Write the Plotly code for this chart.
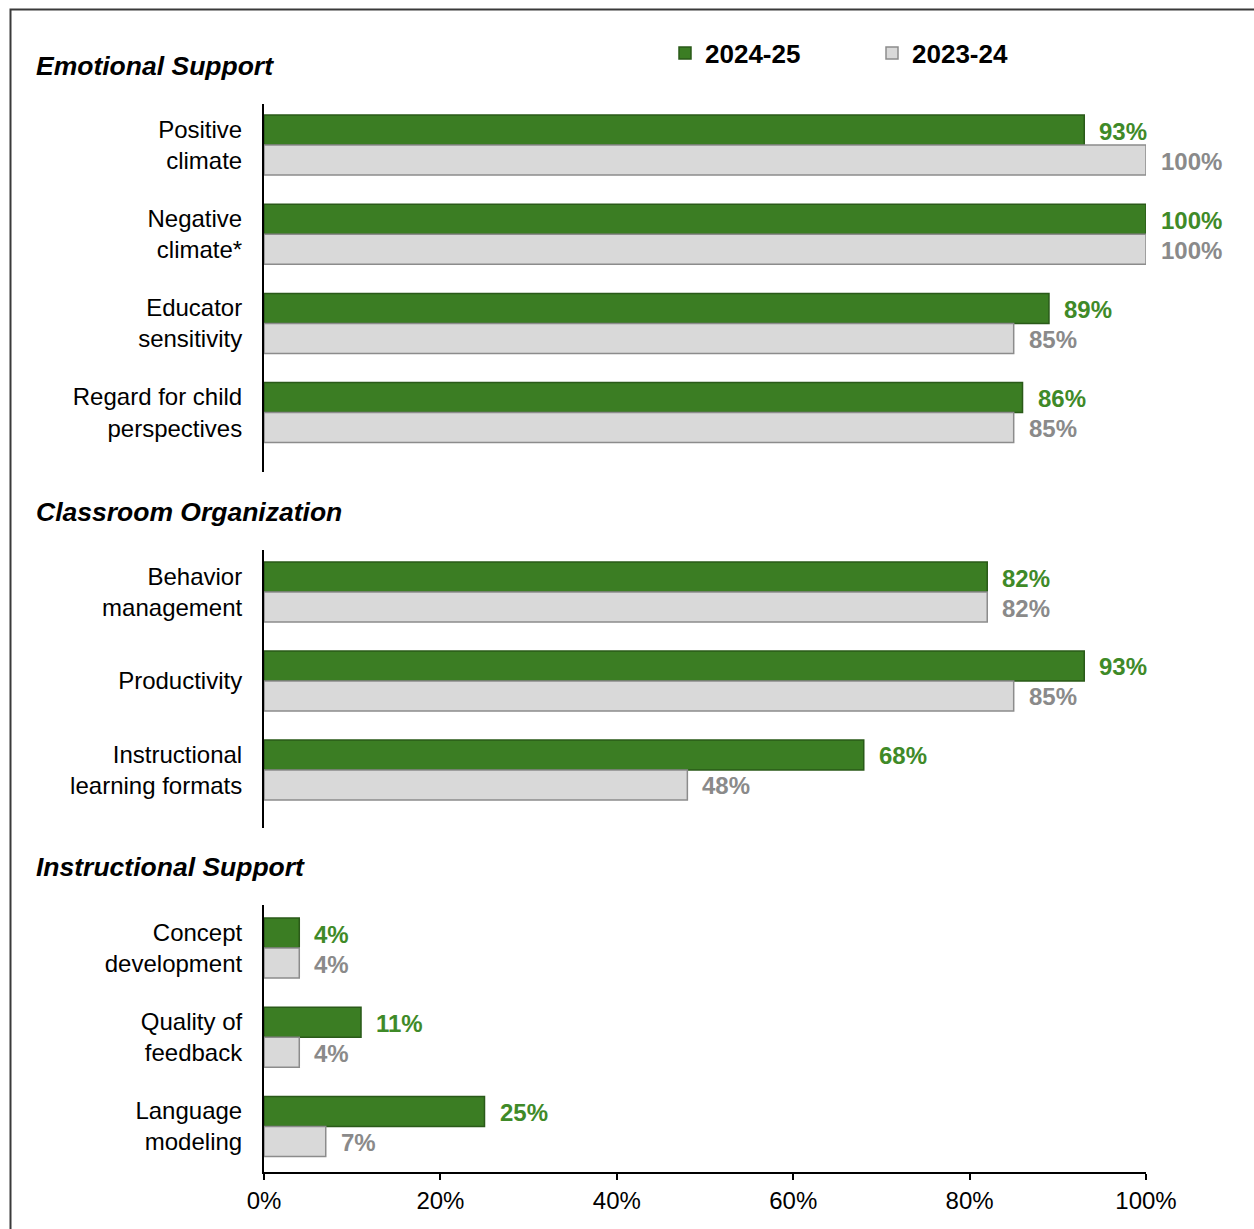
import plotly.graph_objects as go

# ---- data -------------------------------------------------------------
emotional_labels = ["Positive<br>climate", "Negative<br>climate*",
                    "Educator<br>sensitivity", "Regard for child<br>perspectives"]
emotional_2425 = [93, 100, 89, 86]
emotional_2324 = [100, 100, 85, 85]

organization_labels = ["Behavior<br>management", "Productivity",
                       "Instructional<br>learning formats"]
organization_2425 = [82, 93, 68]
organization_2324 = [82, 85, 48]

instructional_labels = ["Concept<br>development", "Quality of<br>feedback",
                        "Language<br>modeling"]
instructional_2425 = [4, 11, 25]
instructional_2324 = [4, 4, 7]

section_titles = ["Emotional Support", "Classroom Organization", "Instructional Support"]
series_names = ["2024-25", "2023-24"]
x_ticks = [0, 20, 40, 60, 80, 100]
x_tick_labels = ["0%", "20%", "40%", "60%", "80%", "100%"]

# ---- styling ----------------------------------------------------------
W, H = 1254, 1229
FONT = "Liberation Sans"
GREEN, GREEN_EDGE, GREEN_TEXT = "#3B7D23", "#2A5A19", "#3F8A28"
GRAY, GRAY_EDGE, GRAY_TEXT = "#D9D9D9", "#8C8C8C", "#8A8A8A"


def py(pixel):
    """Convert a pixel row (from the top) into paper coordinates."""
    return 1 - pixel / H


def px(pixel):
    return pixel / W


sections = [
    dict(labels=emotional_labels, new=emotional_2425, old=emotional_2324,
         yaxis="y", domain=[py(472), py(104)], rng=[3.666, -0.46], title_y=66),
    dict(labels=organization_labels, new=organization_2425, old=organization_2324,
         yaxis="y2", domain=[py(828), py(550)], rng=[2.652, -0.472], title_y=512),
    dict(labels=instructional_labels, new=instructional_2425, old=instructional_2324,
         yaxis="y3", domain=[py(1172), py(905)], rng=[2.51, -0.482], title_y=867),
]

fig = go.Figure()
annotations = []
layout_axes = {}

for i, sec in enumerate(sections):
    first = i == 0
    fig.add_trace(go.Bar(
        y=sec["labels"], x=sec["new"], orientation="h", name=series_names[0],
        xaxis="x", yaxis=sec["yaxis"], showlegend=first, legendgroup="new",
        marker=dict(color=GREEN, line=dict(color=GREEN_EDGE, width=1.5)),
        hoverinfo="skip",
    ))
    fig.add_trace(go.Bar(
        y=sec["labels"], x=sec["old"], orientation="h", name=series_names[1],
        xaxis="x", yaxis=sec["yaxis"], showlegend=first, legendgroup="old",
        marker=dict(color=GRAY, line=dict(color=GRAY_EDGE, width=1.5)),
        hoverinfo="skip",
    ))

    # value labels to the right of each bar
    for lab, v_new, v_old in zip(sec["labels"], sec["new"], sec["old"]):
        for val, shift, col in ((v_new, 14, GREEN_TEXT), (v_old, -16, GRAY_TEXT)):
            annotations.append(dict(
                x=val, y=lab, xref="x", yref=sec["yaxis"],
                text=f"{val}%", showarrow=False, xanchor="left", yanchor="middle",
                xshift=13, yshift=shift,
                font=dict(family=FONT, size=24, color=col, weight="bold"),
            ))

    # section heading
    annotations.append(dict(
        x=px(34), y=py(sec["title_y"]), xref="paper", yref="paper",
        text=section_titles[i], showarrow=False, xanchor="left", yanchor="middle",
        font=dict(family=FONT, size=26.5, color="black", weight="bold", style="italic"),
    ))

    key = "yaxis" if first else f"yaxis{i + 1}"
    layout_axes[key] = dict(
        domain=sec["domain"], range=sec["rng"], type="category", anchor="x",
        showline=True, linecolor="black", linewidth=2, ticks="",
        showgrid=False, zeroline=False, ticklabelstandoff=15,
        tickfont=dict(family=FONT, size=24, color="black"),
        fixedrange=True, automargin=False,
    )

fig.update_layout(
    width=W, height=H,
    margin=dict(l=0, r=0, t=0, b=0),
    paper_bgcolor="white", plot_bgcolor="white",
    barmode="group", bargap=0.327, bargroupgap=0,
    xaxis=dict(
        domain=[px(264), px(1146)], range=[0, 100], anchor="y3",
        tickmode="array", tickvals=x_ticks, ticktext=x_tick_labels,
        showline=True, linecolor="black", linewidth=2,
        ticks="outside", ticklen=6, tickwidth=2, tickcolor="black",
        showgrid=False, zeroline=False,
        tickfont=dict(family=FONT, size=24, color="black"),
        fixedrange=True, automargin=False,
    ),
    legend=dict(
        orientation="h", x=px(665), xanchor="left", y=py(53), yanchor="middle",
        font=dict(family=FONT, size=26, color="black", weight="bold"),
        entrywidth=162, entrywidthmode="pixels", traceorder="normal",
        bgcolor="rgba(0,0,0,0)",
    ),
    annotations=annotations,
    shapes=[dict(
        type="rect", xref="paper", yref="paper",
        x0=px(10.5), x1=1.2, y0=-0.2, y1=py(9.5),
        line=dict(color="#3A3A3A", width=2), layer="below",
    )],
    **layout_axes,
)

fig.write_html("out.html")
